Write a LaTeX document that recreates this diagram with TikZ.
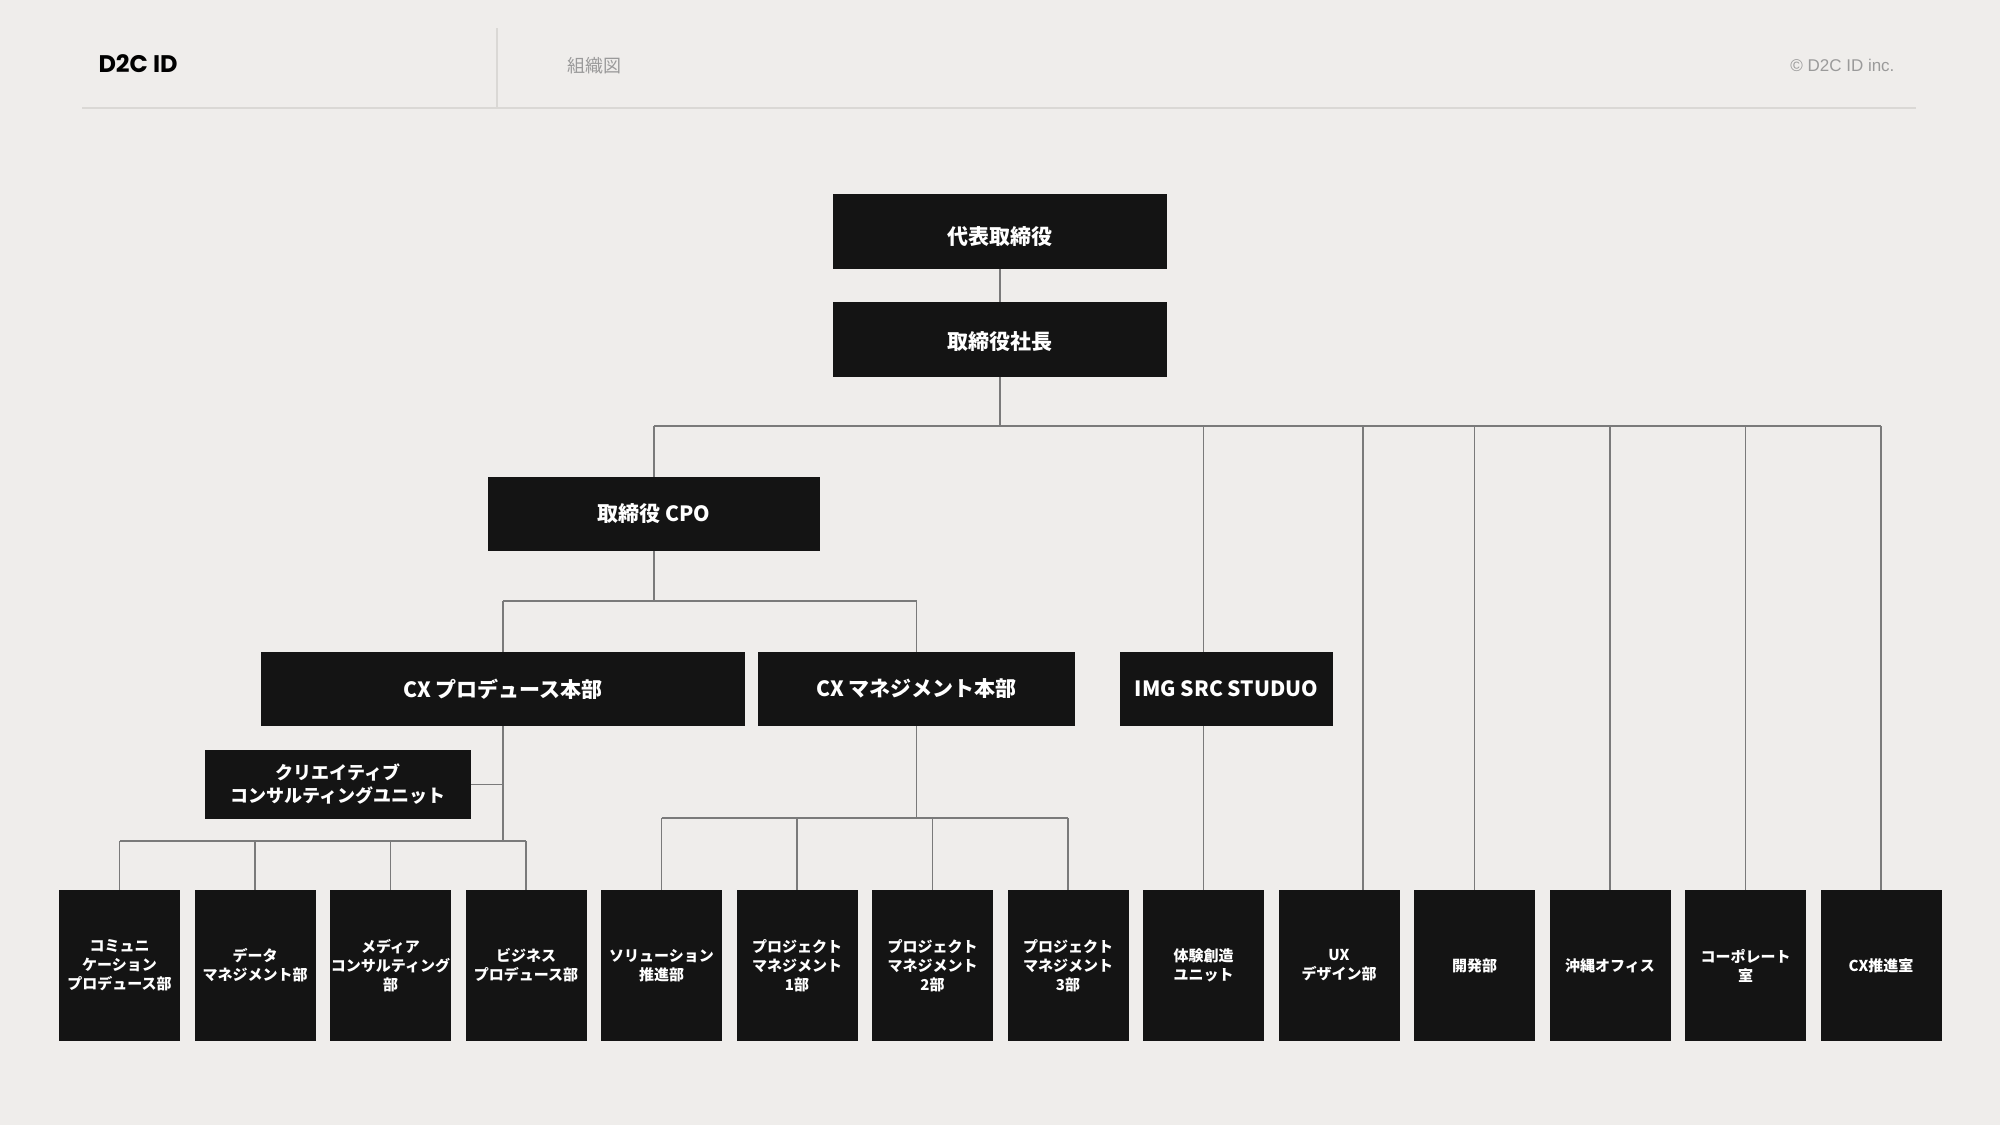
\documentclass[tikz,border=0pt]{standalone}
\usepackage{fontspec}
\newfontfamily\jp{Noto Sans CJK JP}
\newfontfamily\logo{Poppins}
\setmainfont{Liberation Sans}
\usetikzlibrary{positioning,calc}
\definecolor{paper}{HTML}{EFEDEB}
\definecolor{boxblack}{HTML}{141414}
\definecolor{linegray}{HTML}{7A7A7A}
\definecolor{rulegray}{HTML}{DAD8D5}
\definecolor{textgray}{HTML}{9A9A9A}
\pgfdeclarelayer{paperlayer}
\pgfdeclarelayer{wires}
\pgfsetlayers{paperlayer,wires,main}

\begin{document}
\begin{tikzpicture}[
        x=1pt, y=-1pt,
        orgbox/.style={
            fill=boxblack,
            text=white,
            inner sep=0pt,
            outer sep=0pt,
            align=center,
            font=\jp\bfseries\fontsize{21}{26}\selectfont
        },
        deptbox/.style={
            orgbox,
            minimum width=121pt,
            minimum height=151pt,
            font=\jp\bfseries\fontsize{15}{19}\selectfont
        },
        link/.style={draw=linegray, line width=1.3pt}
    ]

    % Step 0: page and header
    \begin{pgfonlayer}{paperlayer}
        \fill[paper] (0,0) rectangle (2000,1125);
    \end{pgfonlayer}

    \node[anchor=west, font=\logo\bfseries\fontsize{24}{28}\selectfont] (brand) at (95,64) {D2C ID};
    \node[anchor=west, text=textgray, font=\jp\fontsize{18}{22}\selectfont] (title) at (564,66) {組織図};
    \node[anchor=east, text=textgray, font=\fontsize{17}{20}\selectfont] (copy) at (1898,65) {© D2C ID inc.};
    \coordinate (ruleL) at (82,108);
    \coordinate (ruleR) at (1916,108);
    \coordinate (divtop) at (497,28);
    \draw[rulegray, line width=1.2pt] (ruleL) -- (ruleR);
    \draw[rulegray, line width=1.2pt] (divtop) -- (divtop |- ruleL);

    % Step 1: top management
    \node[orgbox, minimum width=334pt, minimum height=75pt] (ceo) at (1000,231.5) {\raisebox{-5pt}[\height][\depth]{代表取締役}};
    \node[orgbox, minimum width=334pt, minimum height=75pt, below=33pt of ceo] (president) {\raisebox{-2pt}[\height][\depth]{取締役社長}};

    \node[orgbox, minimum width=332pt, minimum height=74pt] (cpo) at (654,514) {取締役 CPO};

    % Step 2: headquarters
    \node[orgbox, minimum width=484pt, minimum height=74pt] (cxp) at (503,689) {CX プロデュース本部};
    \node[orgbox, minimum width=317pt, minimum height=74pt, right=13pt of cxp] (cxm) {CX マネジメント本部};
    \node[orgbox, minimum width=213pt, minimum height=74pt, right=45pt of cxm] (img) {IMG SRC STUDUO};

    \node[
        orgbox,
        minimum width=266pt,
        minimum height=69pt,
        font=\jp\bfseries\fontsize{18}{23}\selectfont
    ] (creative) at (338,784.5) {クリエイティブ\\コンサルティングユニット};

    % Step 3: departments
    \node[deptbox] (comm) at (119.5,965.5) {コミュニ\\ケーション\\プロデュース部};
    \node[deptbox, right=14.5pt of comm] (data) {データ\\マネジメント部};
    \node[deptbox, right=14.5pt of data] (media) {メディア\\コンサルティング\\部};
    \node[deptbox, right=14.5pt of media] (biz) {ビジネス\\プロデュース部};
    \node[deptbox, right=14.5pt of biz] (solution) {ソリューション\\推進部};
    \node[deptbox, right=14.5pt of solution] (pmone) {プロジェクト\\マネジメント\\1部};
    \node[deptbox, right=14.5pt of pmone] (pmtwo) {プロジェクト\\マネジメント\\2部};
    \node[deptbox, right=14.5pt of pmtwo] (pmthree) {プロジェクト\\マネジメント\\3部};
    \node[deptbox, right=14.5pt of pmthree] (taiken) {体験創造\\ユニット};
    \node[deptbox, right=14.5pt of taiken] (ux) {UX\\デザイン部};
    \node[deptbox, right=14.5pt of ux] (dev) {開発部};
    \node[deptbox, right=14.5pt of dev] (okinawa) {沖縄オフィス};
    \node[deptbox, right=14.5pt of okinawa] (corp) {コーポレート\\室};
    \node[deptbox, right=14.5pt of corp] (cxroom) {CX推進室};

    % Step 4: connectors, kept under the boxes
    \coordinate (mainbus) at (0,426);
    \coordinate (cpobus) at (0,601);
    \coordinate (cxpbus) at (0,841);
    \coordinate (cxmbus) at (0,818);
    \coordinate (uxdrop) at ($(ux.north)+(24,0)$);

    \begin{pgfonlayer}{wires}
        \draw[link] (ceo) -- (president);
        \draw[link] (president.south) -- (president.south |- mainbus);
        \draw[link] (cpo.north |- mainbus) -- (cxroom.north |- mainbus);
        \draw[link] (cpo.north |- mainbus) -- (cpo.north);
        \draw[link] (taiken.north |- mainbus) -- (taiken.north);
        \draw[link] (uxdrop |- mainbus) -- (uxdrop);
        \draw[link] (dev.north |- mainbus) -- (dev.north);
        \draw[link] (okinawa.north |- mainbus) -- (okinawa.north);
        \draw[link] (corp.north |- mainbus) -- (corp.north);
        \draw[link] (cxroom.north |- mainbus) -- (cxroom.north);

        \draw[link] (cpo.south) -- (cpo.south |- cpobus);
        \draw[link] (cxp.north |- cpobus) -- (cxm.north |- cpobus);
        \draw[link] (cxp.north |- cpobus) -- (cxp.north);
        \draw[link] (cxm.north |- cpobus) -- (cxm.north);

        \draw[link] (cxp.south) -- (cxp.south |- cxpbus);
        \draw[link] (creative.east) -- (creative.east -| cxp.south);
        \draw[link] (comm.north |- cxpbus) -- (biz.north |- cxpbus);
        \draw[link] (comm.north |- cxpbus) -- (comm.north);
        \draw[link] (data.north |- cxpbus) -- (data.north);
        \draw[link] (media.north |- cxpbus) -- (media.north);
        \draw[link] (biz.north |- cxpbus) -- (biz.north);

        \draw[link] (cxm.south) -- (cxm.south |- cxmbus);
        \draw[link] (solution.north |- cxmbus) -- (pmthree.north |- cxmbus);
        \draw[link] (solution.north |- cxmbus) -- (solution.north);
        \draw[link] (pmone.north |- cxmbus) -- (pmone.north);
        \draw[link] (pmtwo.north |- cxmbus) -- (pmtwo.north);
        \draw[link] (pmthree.north |- cxmbus) -- (pmthree.north);
    \end{pgfonlayer}

    \end{tikzpicture}
\end{document}
